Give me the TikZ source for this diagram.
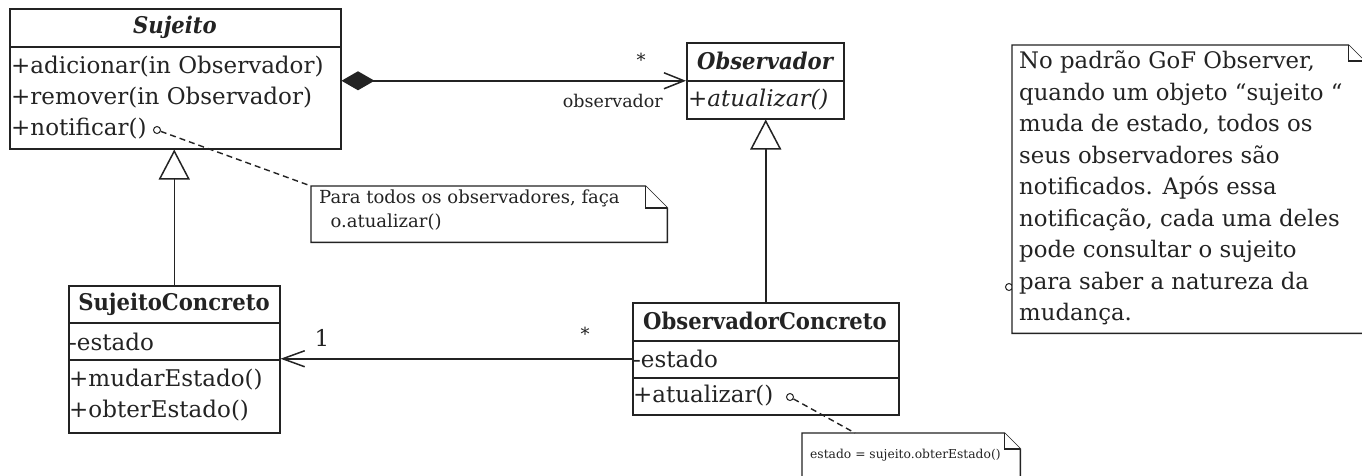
\documentclass[tikz,border=0pt]{standalone}
\usepackage{fontspec}
\setmainfont{DejaVu Serif}
\newfontfamily\hdfont[FakeStretch=0.92]{DejaVu Serif}
\usetikzlibrary{arrows.meta,calc}
\definecolor{ink}{RGB}{35,35,35}
\newcommand\notepath[2]{%
  \draw[notel] (#1.north west) -- ([xshift=-#2]#1.north east) -- ([yshift=-#2]#1.north east) -- (#1.south east) -- (#1.south west) -- cycle;
  \draw[notel] ([xshift=-#2]#1.north east) |- ([yshift=-#2]#1.north east);}
\begin{document}
\begin{tikzpicture}[x=1pt,y=-1pt,
  box/.style={draw=ink, line width=1.5pt, fill=white, inner sep=0pt, anchor=north west},
  sepl/.style={draw=ink, line width=1.5pt},
  row/.style={anchor=west, inner sep=0pt, text=ink, font=\fontsize{23}{26}\selectfont},
  head/.style={inner sep=0pt, text=ink, font=\fontsize{23}{26}\selectfont\hdfont\bfseries},
  notel/.style={draw=ink, line width=1.4pt, fill=white},
  notebox/.style={inner sep=0pt, anchor=north west},
  ntext/.style={inner sep=0pt, text=ink, align=left},
  mult/.style={inner sep=0pt, text=ink, font=\fontsize{18}{20}\selectfont},
  circ/.style={circle, draw=ink, line width=1pt, fill=white, minimum size=7pt, inner sep=0pt},
  conn/.style={draw=ink, line width=1.5pt},
  comp/.style={conn, {Diamond[length=33pt,width=19pt]}-{Straight Barb[length=20pt,width=16pt,line width=1.5pt]}},
  gen/.style={conn, -{Triangle[open,length=30pt,width=31pt,fill=white,line width=1.5pt]}},
  assoc/.style={conn, -{Straight Barb[length=22pt,width=16pt,line width=1.5pt]}},
  dashl/.style={draw=ink, line width=1.4pt, dash pattern=on 6pt off 4pt}]
\useasboundingbox (0,0) rectangle (1362,475);
\clip (0,0) rectangle (1362,475);
\fill[white] (0,0) rectangle (1362,475);

% Sujeito
\node[box, minimum width=331pt, minimum height=140pt] (suj) at (9,8) {};
\draw[sepl] (9,47) -- (340,47);
\node[head, font=\fontsize{23}{26}\selectfont\hdfont\bfseries\itshape] (sujh) at (175,27) {Sujeito};
\node[row] (suj1) at (11,67) {+adicionar(in Observador)};
\node[row] (suj2) at (11,98) {+remover(in Observador)};
\node[row] (suj3) at (11,129) {+notificar()};

% Observador
\node[box, minimum width=157pt, minimum height=76pt] (obs) at (686,42) {};
\draw[sepl] (686,81) -- (843,81);
\node[head, font=\fontsize{23}{26}\selectfont\hdfont\bfseries\itshape] (obsh) at (765,61) {Observador};
\node[row, font=\fontsize{23}{26}\selectfont\itshape] (obs1) at (688,100) {+atualizar()};

% SujeitoConcreto
\node[box, minimum width=211pt, minimum height=147pt] (sc) at (68,285) {};
\draw[sepl] (68,323) -- (279,323);
\draw[sepl] (68,360) -- (279,360);
\node[head] (sch) at (174,304) {SujeitoConcreto};
\node[row] (sc1) at (69,342) {-estado};
\node[row] (sc2) at (69,380) {+mudarEstado()};
\node[row] (sc3) at (69,411) {+obterEstado()};

% ObservadorConcreto
\node[box, minimum width=266pt, minimum height=112pt] (oc) at (632,302) {};
\draw[sepl] (632,341) -- (898,341);
\draw[sepl] (632,378) -- (898,378);
\node[head] (och) at (765,321) {ObservadorConcreto};
\node[row] (oc1) at (633,359) {-estado};
\node[row] (oc2) at (633,396) {+atualizar()};

% connectors
\draw[comp] (suj.north east |- obs.west) -- (obs.west);
\node[mult] (m1) at (641,60) {*};
\node[mult, anchor=east, font=\fontsize{17.5}{20}\selectfont] (m2) at (663,101) {observador};
\draw[gen] (sc.north) -- (sc.north |- suj.south);
\draw[gen] (oc.north) -- (oc.north |- obs.south);
\draw[assoc] (oc.west) -- (oc.west -| sc.east);
\node[mult, font=\fontsize{23}{26}\selectfont] (m3) at (322,338) {1};
\node[mult] (m4) at (585,334) {*};

% note 1
\node[notebox, minimum width=356pt, minimum height=56pt] (n1) at (311,186) {};
\notepath{n1}{22pt}
\node[ntext, anchor=north west, font=\fontsize{18}{24}\selectfont] (n1t) at (319,190) {Para todos os observadores, faça\\\ \ o.atualizar()};
\node[circ] (c1) at (157,130) {};
\draw[dashl] (c1) -- (n1.north west);

% note 3
\node[notebox, minimum width=218pt, minimum height=60pt] (n3) at (802,433) {};
\notepath{n3}{16pt}
\node[ntext, anchor=west, font=\fontsize{12.3}{15}\selectfont] (n3t) at (810,455) {estado = sujeito.obterEstado()};
\node[circ] (c2) at (790,397) {};
\draw[dashl] (c2) -- (n3.north west -| 855,0);

% big note
\node[circ] (c3) at (1009,287) {};
\node[notebox, minimum width=352pt, minimum height=288pt] (n2) at (1012,45) {};
\notepath{n2}{16pt}
\node[ntext, anchor=north west, font=\fontsize{22.8}{31.5}\selectfont] (n2t) at (1019,51) {No padrão GoF Observer,\\quando um objeto “sujeito “\\muda de estado, todos os\\seus observadores são\\notificados. Após essa\\notificação, cada uma deles\\pode consultar o sujeito\\para saber a natureza da\\mudança.};
\end{tikzpicture}
\end{document}
